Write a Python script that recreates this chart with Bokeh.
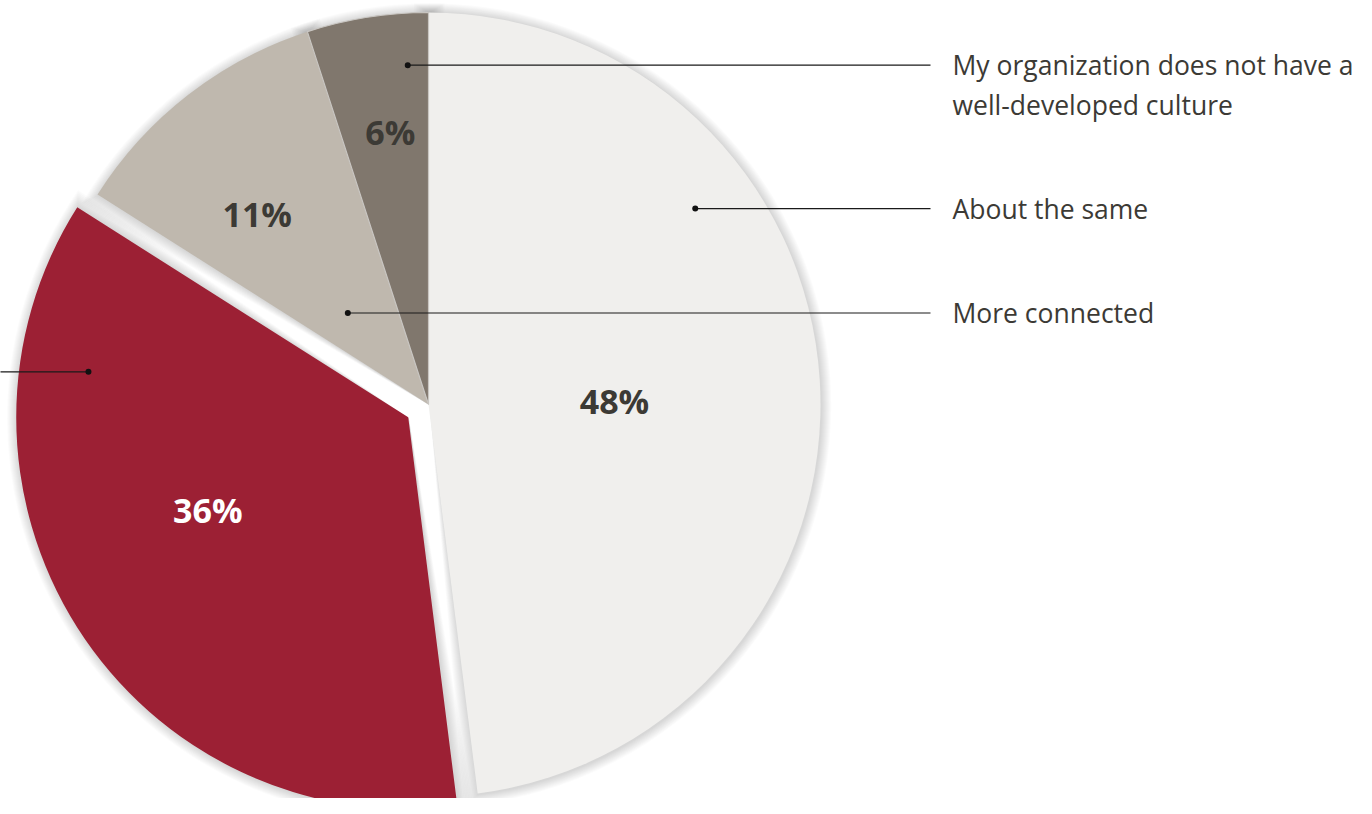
import numpy as np
from bokeh.plotting import figure
from bokeh.models import Range1d
from bokeh.core.properties import value
from bokeh.embed import file_html
from bokeh.resources import INLINE

# ---- data (clockwise from 12 o'clock) ----
categories = ["About the same", "Less connected", "More connected",
              "My organization does not have a\nwell-developed culture"]
values = [48, 36, 11, 6]
pct_labels = ["48%", "36%", "11%", "6%"]
colors = ["#f0efed", "#9c2034", "#bfb8ae", "#80776d"]
pct_colors = ["#3c3a35", "#ffffff", "#3c3a35", "#3c3a35"]
exploded = [False, True, False, False]
show_label = [True, False, True, True]   # the red slice's label lies off the page

# ---- layout ----
W, H = 1356, 798
CX, CY = 428, 394          # pie centre in plot pixels (y up)
R = 392
EXPLODE = 24
# per-slice: (angle offset from mid, radius) for the % label and the leader dot
pct_pos = [(2.6, 186), (7.5, 221), (-4.2, 256), (1.0, 275)]
dot_pos = [(-32.7, 331), (40.5, 323), (-3.6, 122), (5.5, 340)]
LINE_END_X = 930
LABEL_X = 952
LINE_GAP = 40

p = figure(width=W, height=H, x_range=Range1d(0, W), y_range=Range1d(0, H),
           output_backend="svg", toolbar_location=None, min_border=0,
           x_axis_type=None, y_axis_type=None)
p.grid.visible = False
p.outline_line_color = None
p.background_fill_color = "white"
p.border_fill_color = "white"

# angles (clockwise from top, degrees)
cum = np.cumsum([0] + values[:-1]) / 100 * 360
starts = list(cum)
ends = list(cum[1:]) + [360.0]
mids = [(s + e) / 2 for s, e in zip(starts, ends)]

def centre(i):
    if exploded[i]:
        a = np.radians(mids[i])
        return CX + EXPLODE * np.sin(a), CY + EXPLODE * np.cos(a)
    return CX, CY

def polar(i, ang, r):
    cx, cy = centre(i)
    a = np.radians(ang)
    return cx + r * np.sin(a), cy + r * np.cos(a)

def bk(a_cw):
    return np.radians(90 - a_cw)

# soft shadows
for i in range(len(values)):
    cx, cy = centre(i)
    for k in range(1, 11):
        d = k * 0.22
        p.wedge(x=cx + 0.8, y=cy - 0.8, radius=R + k,
                start_angle=bk(ends[i] + d), end_angle=bk(starts[i] - d),
                direction="anticlock", fill_color="black", fill_alpha=0.014,
                line_color=None)

# slices
for i in range(len(values)):
    cx, cy = centre(i)
    p.wedge(x=cx, y=cy, radius=R,
            start_angle=bk(ends[i]), end_angle=bk(starts[i]),
            direction="anticlock", fill_color=colors[i],
            line_color="#c9c6c2" if i == 3 else None, line_width=1.2)

# percent labels
px, py = [], []
for i in range(len(values)):
    off, r = pct_pos[i]
    x, y = polar(i, mids[i] + off, r)
    px.append(x); py.append(y)
p.text(x=px, y=py, text=pct_labels, text_color=pct_colors,
       text_font=value("Open Sans"), text_font_style="bold",
       text_font_size="34px", text_align="center", text_baseline="middle")

# leader lines, dots and category labels
dx, dy = [], []
for i in range(len(values)):
    off, r = dot_pos[i]
    x, y = polar(i, mids[i] + off, r)
    dx.append(x); dy.append(y)
    if x < CX and not show_label[i]:
        p.line([-20, x], [y, y], line_color="#1a1a1a", line_width=1.2)
    else:
        p.line([x, LINE_END_X], [y, y], line_color="#1a1a1a", line_width=1.2)
    if show_label[i]:
        lines = categories[i].split("\n")
        p.text(x=[LABEL_X] * len(lines), y=[y - j * LINE_GAP for j in range(len(lines))],
               text=lines, text_color="#3c3a35", text_font=value("Open Sans"),
               text_font_size="26.5px", text_align="left", text_baseline="middle")
p.scatter(x=dx, y=dy, size=6, fill_color="#111111", line_color=None)

open("out.html", "w").write(file_html(p, INLINE))
